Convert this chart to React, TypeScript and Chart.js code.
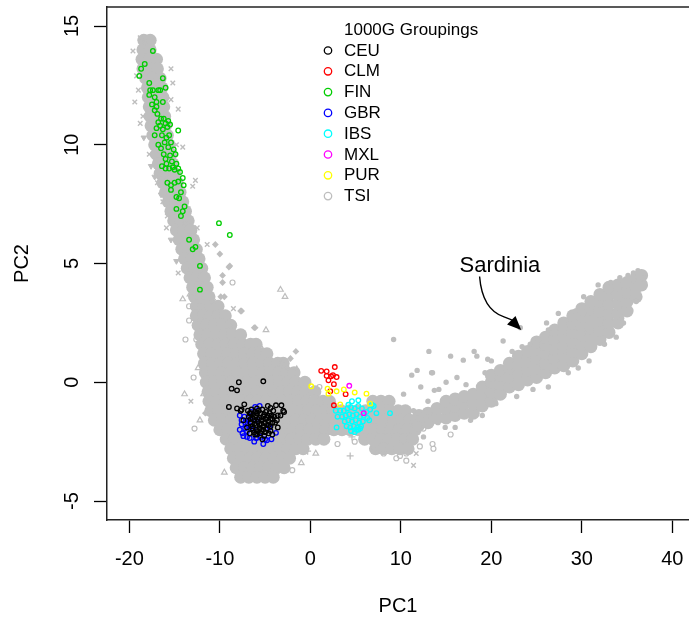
import { useEffect, useRef } from "react";
import { Chart, registerables } from "chart.js";

Chart.register(...registerables);

type Pt = [number, number];

const FONT = "'Liberation Sans', Arial, Helvetica, sans-serif";

const GROUPS = ["CEU", "CLM", "FIN", "GBR", "IBS", "MXL", "PUR", "TSI"];
const GROUP_COLORS = ["#000000", "#FF0000", "#00CD00", "#0000FF", "#00FFFF", "#FF00FF", "#FFFF00", "#BEBEBE"];
const LEGEND_TITLE = "1000G Groupings";
const X_TICKS = [-20, -10, 0, 10, 20, 30, 40];
const Y_TICKS = [-5, 0, 5, 10, 15];
const X_RANGE = [-22.47, 41.84];
const Y_RANGE = [-5.8, 15.8];

// Dense reference-panel cloud, stored as rows: [PC2, PC1 values along the row]
const NORTH_ROWS: [number, number[]][] = [
  [14.4, [-18.4, -17.7]],
  [14.0, [-18.5, -17.7]],
  [13.6, [-18.6, -17.8, -17.0]],
  [13.2, [-18.5, -17.7, -16.9]],
  [12.8, [-18.2, -17.4, -16.6]],
  [12.4, [-18.0, -17.2, -16.4]],
  [12.0, [-17.9, -17.1, -16.3]],
  [11.6, [-17.8, -17.0, -16.2]],
  [11.2, [-17.7, -16.9, -16.1]],
  [10.8, [-17.6, -16.8, -16.0]],
  [10.4, [-17.4, -16.6, -15.8]],
  [10.0, [-17.2, -16.4, -15.6]],
  [9.6, [-17.0, -16.2, -15.4]],
  [9.2, [-16.8, -16.0, -15.2]],
  [8.8, [-16.6, -15.8, -15.0]],
  [8.4, [-16.3, -15.5, -14.7]],
  [8.0, [-16.0, -15.2, -14.4]],
  [7.6, [-15.7, -14.9, -14.1]],
  [7.2, [-15.4, -14.6, -13.8]],
  [6.8, [-15.1, -14.3, -13.5]],
  [6.4, [-14.8, -14.0, -13.2]],
  [6.0, [-14.5, -13.7, -12.9]],
  [5.6, [-14.2, -13.4, -12.6]],
  [5.2, [-13.9, -13.1, -12.3]],
  [4.8, [-13.6, -12.8, -12.0]],
  [4.4, [-13.3, -12.5, -11.7]],
  [4.0, [-13.0, -12.2, -11.4]],
  [3.6, [-12.8, -12.0, -11.2]],
  [3.2, [-12.6, -11.8, -11.0, -10.2]],
  [2.8, [-12.6, -11.8, -11.0, -10.2, -9.4]],
];

const MAIN_ROWS: [number, number[]][] = [
  [2.4, [-12.4, -11.5, -10.6, -9.7, -8.8]],
  [2.0, [-12.2, -11.3, -10.4, -9.5, -8.6, -7.7]],
  [1.6, [-12.0, -11.1, -10.2, -9.3, -8.4, -7.5, -6.6, -6.0]],
  [1.2, [-11.8, -10.9, -10.0, -9.1, -8.2, -7.3, -6.4, -5.5, -4.8]],
  [0.8, [-11.7, -10.8, -9.9, -9.0, -8.1, -7.2, -6.3, -5.4, -4.5, -3.6, -3.0]],
  [0.4, [-11.6, -10.7, -9.8, -8.9, -8.0, -7.1, -6.2, -5.3, -4.4, -3.5, -2.6, -1.8]],
  [0.0, [-11.5, -10.6, -9.7, -8.8, -7.9, -7.0, -6.1, -5.2, -4.3, -3.4, -2.5, -1.6, -0.6]],
  [-0.4, [-11.3, -10.4, -9.5, -8.6, -7.7, -6.8, -5.9, -5.0, -4.1, -3.2, -2.3, -1.4, -0.5, 0.5]],
  [-0.8, [-11.2, -10.3, -9.4, -8.5, -7.6, -6.7, -5.8, -4.9, -4.0, -3.1, -2.2, -1.3, -0.4, 0.5, 1.4, 2.1, 6.9, 7.8, 8.7]],
  [-1.2, [-11.0, -10.1, -9.2, -8.3, -7.4, -6.5, -5.6, -4.7, -3.8, -2.9, -2.0, -1.1, -0.2, 0.7, 1.6, 2.5, 3.4, 4.3, 5.2, 6.1, 7.0, 7.9, 8.8, 9.7, 10.5]],
  [-1.6, [-10.6, -9.7, -8.8, -7.9, -7.0, -6.1, -5.2, -4.3, -3.4, -2.5, -1.6, -0.7, 0.2, 1.1, 2.0, 2.9, 3.8, 4.7, 5.6, 6.5, 7.4, 8.3, 9.2, 10.1, 11.0, 11.8]],
  [-2.0, [-10.0, -9.1, -8.2, -7.3, -6.4, -5.5, -4.6, -3.7, -2.8, -1.9, -1.0, -0.1, 0.8, 1.7, 2.6, 3.5, 4.4, 5.3, 6.2, 7.1, 8.0, 8.9, 9.8, 10.7, 11.6]],
  [-2.4, [-9.3, -8.4, -7.5, -6.6, -5.7, -4.8, -3.9, -3.0, -2.1, -1.2, -0.3, 0.6, 1.5, 6.0, 6.9, 7.8, 8.7, 9.6, 10.5, 11.3]],
  [-2.8, [-8.8, -7.9, -7.0, -6.1, -5.2, -4.3, -3.4, -2.5, -1.6, -0.8, 7.2, 8.1, 9.0, 9.9, 10.8]],
  [-3.2, [-8.5, -7.6, -6.7, -5.8, -4.9, -4.0, -3.1, -2.3]],
  [-3.6, [-8.2, -7.3, -6.4, -5.5, -4.6, -3.7, -2.9]],
  [-4.0, [-7.7, -6.8, -5.9, -5.0, -4.1]],
];

// Sardinian arm, stored as columns: [PC1, PC2 values along the column]
const SARDINIA_COLS: [number, number[]][] = [
  [12, [-1.8, -1.4]],
  [13, [-1.7, -1.3]],
  [14, [-1.5, -1.1]],
  [15, [-1.5, -1.1, -0.8]],
  [16, [-1.4, -1.0, -0.7]],
  [17, [-1.3, -0.9, -0.6]],
  [18, [-1.3, -0.9, -0.5]],
  [19, [-1.0, -0.6, -0.2]],
  [20, [-0.8, -0.4, 0.0, 0.3]],
  [21, [-0.5, -0.1, 0.3, 0.5]],
  [22, [-0.2, 0.2, 0.6, 0.8]],
  [23, [-0.1, 0.3, 0.7, 1.1]],
  [24, [0.1, 0.5, 0.9, 1.3]],
  [25, [0.2, 0.6, 1.0, 1.4, 1.7]],
  [26, [0.4, 0.8, 1.2, 1.6, 1.9]],
  [27, [0.6, 1.0, 1.4, 1.8, 2.2]],
  [28, [0.7, 1.1, 1.5, 1.9, 2.3, 2.5]],
  [29, [0.9, 1.3, 1.7, 2.1, 2.5, 2.8]],
  [30, [1.2, 1.6, 2.0, 2.4, 2.8, 3.1]],
  [31, [1.5, 1.9, 2.3, 2.7, 3.1, 3.4]],
  [32, [1.8, 2.2, 2.6, 3.0, 3.4, 3.7]],
  [33, [2.1, 2.5, 2.9, 3.3, 3.7, 4.0]],
  [34, [2.5, 2.9, 3.3, 3.7, 4.1]],
  [35, [3.0, 3.4, 3.8, 4.2]],
  [36, [3.6, 4.0, 4.4]],
  [36.6, [4.1, 4.5]],
];

// Scattered reference samples drawn with their own symbols
const GREY_DOTS: Pt[] = [
  [9.2, 1.8], [13.1, 1.3], [15.5, 1.1], [11.2, 0.3], [11.8, 0.5], [13.5, 0.4], [13.7, -0.34], [13.0, -0.8],
  [11.4, -1.2], [12.9, -1.25], [12.9, -1.6], [14.1, -1.7], [11.8, -1.5], [16.9, 0.93], [18.1, 1.3],
  [18.4, 1.1], [19.6, 0.97], [21.3, 1.74], [23.4, 1.5], [24.3, 1.6], [25.2, 1.8], [26.1, 2.5], [26.3, 2.2],
  [28.2, 2.6], [29.3, 3.0], [30.2, 3.6], [31.1, 3.5], [33.2, 4.2], [34.2, 4.4], [35.1, 4.5], [35.7, 4.6],
  [36.2, 4.7], [34.6, 2.5], [17.7, -1.6], [20.5, -0.9], [26.3, -0.2], [34.4, 2.7], [13.4, 0.4], [14.9, -1.9],
  [16.0, -1.9], [19.0, -1.4], [22.8, -0.6], [24.6, -0.3], [28.5, 0.4], [30.8, 0.9], [32.5, 1.6], [36.0, 3.4],
  [36.8, 4.4], [27.4, 2.9], [15.0, 0.0], [16.2, 0.2], [14.2, -0.3], [12.2, -0.2], [20.0, 0.9], [22.3, 1.3],
  [23.2, 2.3], [19.3, 0.4], [31.8, 4.1], [33.8, 1.9], [29.6, 0.6], [17.2, -0.1], [10.3, -0.5], [12.5, -2.3],
];

const GREY_CROSS: Pt[] = [
  [-19.6, 13.95], [-18.3, 14.3], [-15.4, 13.2], [-15.4, 11.9], [-19.2, 12.9], [-19.4, 11.8], [-14.1, 9.9],
  [-16.9, 8.4], [-16.3, 7.6], [-13.0, 8.25], [-12.7, 8.5], [-15.9, 6.5], [-11.4, 5.8], [-8.5, 3.1],
  [-2.6, 0.6], [-13.2, -0.8], [11.7, -3.0], [11.4, -3.5], [-18.8, 14.5], [-19.0, 12.3], [-18.5, 11.2],
  [-14.6, 11.5], [-14.8, 10.0], [-17.8, 9.6], [-13.5, 7.3], [-15.8, 7.0], [-12.5, 6.5], [-11.8, 4.8],
  [-14.6, 4.6], [-10.7, 3.4], [-17.9, 12.0], [-18.8, 10.9], [-15.2, 12.6], [-13.9, 6.7], [-12.2, 3.4],
];

const GREY_TRI_DOWN: Pt[] = [
  [-18.4, 10.3], [-17.2, 8.65], [-15.4, 6.0], [-14.8, 5.1], [-16.5, 7.9], [-17.6, 9.1],
];

const GREY_TRI_UP: Pt[] = [
  [-14.1, 3.5], [-13.3, 3.7], [-8.8, 2.3], [-4.9, 2.2], [-2.8, 3.6], [-3.3, 3.9], [-1.5, 0.55], [-5.5, 1.5],
  [-11.8, -0.5], [-13.9, -0.5], [-12.4, 0.6], [-9.5, -3.8], [-12.2, -1.6], [-1.0, -3.4], [0.6, -3.0],
];

const GREY_OPEN: Pt[] = [
  [-8.6, 4.2], [-13.4, 3.2], [-12.1, 2.6], [-13.4, 2.6], [-13.8, 1.8], [-12.6, 1.8], [-3.1, 0.8], [12.5, -1.95],
  [15.5, -2.2], [13.5, -2.6], [13.6, -2.8], [12.1, -2.7], [10.6, -3.0], [9.9, -3.1], [7.0, -2.8], [8.1, -3.0],
  [9.5, -3.2], [10.6, -3.3], [4.9, -2.5], [-12.8, -1.95], [-12.9, 0.2], [1.0, -0.2], [3.0, -2.6], [-2.0, -3.7],
];

const GREY_DIAMOND: Pt[] = [
  [-10.5, 5.8], [-10.0, 5.4], [-9.0, 4.85], [-9.7, 4.5], [-9.5, 3.6], [-7.7, 3.0], [-9.7, 4.2], [-8.9, 4.9],
  [-9.9, 3.6], [-7.6, 3.0], [-6.2, 2.3], [-1.6, 1.3], [-2.2, 1.0], [-11.6, -1.3], [-6.1, 2.3],
];

const GREY_PLUS: Pt[] = [[4.4, -3.1], [4.6, -2.3], [-0.3, -2.9]];

const FIN: Pt[] = [
  [-17.4, 13.95], [-18.3, 13.4], [-18.7, 13.2], [-18.9, 12.9], [-17.8, 12.6], [-16.3, 12.8], [-16.0, 12.4],
  [-17.7, 12.3], [-17.4, 12.3], [-16.8, 12.3], [-16.6, 12.3], [-17.8, 12.1], [-17.2, 12.0], [-16.3, 11.8],
  [-17.0, 11.8], [-17.0, 11.6], [-17.2, 11.45], [-16.5, 11.1], [-16.2, 11.1], [-16.8, 10.95], [-16.0, 10.9],
  [-16.6, 10.8], [-15.8, 10.75], [-17.0, 10.7], [-16.3, 10.65], [-15.5, 10.85], [-14.6, 10.6], [-17.2, 10.4],
  [-16.4, 10.4], [-15.9, 10.3], [-15.6, 10.4], [-16.1, 10.1], [-15.4, 10.1], [-16.8, 10.0], [-16.5, 9.85],
  [-15.7, 9.9], [-15.1, 9.8], [-16.2, 9.6], [-15.5, 9.55], [-14.9, 9.6], [-16.0, 9.4], [-15.3, 9.3],
  [-15.9, 9.2], [-16.4, 9.1], [-14.8, 9.2], [-15.6, 9.0], [-15.0, 8.95], [-14.6, 9.0], [-14.4, 8.85],
  [-14.1, 8.6], [-15.8, 8.4], [-15.4, 8.3], [-15.0, 8.4], [-14.6, 8.45], [-14.0, 8.3], [-15.4, 8.1],
  [-14.3, 8.0], [-14.8, 7.8], [-14.5, 7.75], [-14.8, 7.3], [-13.9, 7.4], [-14.3, 7.0], [-14.1, 7.2],
  [-13.4, 6.0], [-13.0, 5.6], [-12.7, 5.7], [-12.2, 4.9], [-12.2, 3.9], [-10.1, 6.7], [-8.9, 6.2],
  [-16.9, 11.3], [-15.7, 11.0], [-17.5, 11.7], [-16.0, 9.0], [-15.2, 9.05],
];

const CEU: Pt[] = [
  [-7.9, 0.0], [-5.2, 0.04], [-8.7, -0.27], [-8.1, -0.34], [-9.0, -1.04], [-8.1, -1.1], [-7.3, -0.93],
  [-7.7, -1.2], [-4.4, -1.08], [-3.8, -0.97], [-3.2, -0.97], [-3.0, -1.2], [-3.3, -1.4], [-3.6, -1.9],
  [-4.2, -2.2], [-5.3, -2.4], [-6.1, -2.2], [-7.0, -1.9], [-7.4, -1.6], [-6.6, -1.3], [-4.7, -1.0],
  [-5.9, -1.1], [-7.6, -1.15], [-3.7, -1.6], [-2.9, -1.25],
  [-6.9, -1.2], [-6.5, -1.15], [-6.1, -1.25], [-5.7, -1.2], [-5.3, -1.15], [-4.9, -1.25], [-4.5, -1.3],
  [-4.1, -1.2], [-6.8, -1.45], [-6.4, -1.5], [-6.0, -1.4], [-5.6, -1.5], [-5.2, -1.45], [-4.8, -1.5],
  [-4.4, -1.55], [-4.0, -1.45], [-3.6, -1.4], [-6.6, -1.7], [-6.2, -1.75], [-5.8, -1.65], [-5.4, -1.75],
  [-5.0, -1.7], [-4.6, -1.8], [-4.2, -1.7], [-6.4, -1.95], [-6.0, -2.0], [-5.6, -1.95], [-5.2, -2.0],
  [-4.8, -1.95], [-4.4, -2.05], [-5.9, -2.2], [-5.5, -2.15], [-5.1, -2.25], [-6.7, -2.15],
  [-6.7, -1.3], [-6.3, -1.35], [-5.9, -1.3], [-5.5, -1.3], [-5.1, -1.35], [-4.7, -1.4], [-4.3, -1.4],
  [-6.6, -1.55], [-6.2, -1.6], [-5.8, -1.55], [-5.4, -1.6], [-5.0, -1.55], [-4.6, -1.65], [-4.2, -1.55],
  [-6.4, -1.85], [-6.0, -1.8], [-5.6, -1.8], [-5.2, -1.85], [-4.8, -1.8], [-4.4, -1.85], [-3.9, -1.7],
  [-5.8, -2.05], [-5.4, -2.05], [-5.0, -2.1], [-4.6, -2.15], [-6.2, -2.1],
];

const GBR: Pt[] = [
  [-5.6, -1.0], [-7.8, -1.4], [-7.6, -1.6], [-7.2, -1.7], [-7.6, -1.77], [-7.8, -2.0], [-7.0, -2.06],
  [-7.4, -2.27], [-5.9, -2.34], [-5.5, -2.3], [-4.8, -2.44], [-3.8, -2.13], [-4.5, -1.9], [-6.3, -1.95],
  [-6.8, -1.5], [-6.5, -1.25], [-6.1, -1.04], [-6.6, -1.85], [-6.9, -1.75], [-7.2, -1.95], [-6.7, -2.35],
  [-6.2, -2.5], [-5.0, -2.4], [-7.5, -2.15], [-6.0, -2.35], [-7.3, -1.45], [-4.3, -2.4], [-6.0, -1.6],
  [-5.2, -2.6], [-7.0, -2.3],
];

const IBS: Pt[] = [
  [3.3, -1.2], [3.7, -1.2], [4.1, -1.1], [4.5, -1.05], [4.9, -1.1], [5.3, -1.0], [5.7, -1.1], [6.2, -1.25],
  [6.6, -1.15], [3.5, -1.45], [3.9, -1.4], [4.3, -1.35], [4.7, -1.4], [5.1, -1.35], [5.5, -1.45], [5.9, -1.4],
  [6.3, -1.5], [3.8, -1.65], [4.2, -1.6], [4.6, -1.65], [5.0, -1.6], [5.4, -1.7], [5.8, -1.65], [4.0, -1.85],
  [4.4, -1.9], [4.8, -1.85], [5.2, -1.9], [5.6, -1.85], [4.5, -2.05], [4.9, -2.1], [5.3, -2.0],
  [5.3, -0.76], [8.8, -1.3], [2.9, -1.9], [7.0, -1.0], [5.1, -2.0], [5.5, -1.95], [3.0, -1.45], [2.8, -1.2],
  [6.8, -0.95], [4.6, -0.8], [4.2, -0.95], [6.5, -1.6], [7.3, -1.3],
];

const CLM: Pt[] = [
  [2.7, 0.64], [1.2, 0.48], [1.8, 0.46], [2.5, 0.3], [1.8, 0.27], [2.0, 0.08], [2.6, -0.08], [2.2, -0.38],
  [3.9, -0.5], [2.6, -0.97], [2.9, 0.22], [2.3, 0.25],
];

const PUR: Pt[] = [
  [0.1, -0.17], [1.9, -0.27], [2.0, -0.48], [2.9, -0.38], [3.7, -0.3], [4.9, -0.43], [6.2, -0.48],
  [6.6, -0.9], [3.3, -0.93],
];

const MXL: Pt[] = [[4.3, -0.15], [5.9, -1.3]];

// "Sardinia" callout: label anchor and the curved arrow's path, in data units
const SARDINIA_LABEL: Pt = [20.95, 4.88];
const ARROW_PATH: Pt[] = [[18.7, 4.45], [18.9, 3.5], [19.8, 2.95], [21.4, 2.75]];
const ARROW_TIP: Pt = [23.3, 2.2];

const rowsToPts = (rows: [number, number[]][]): Pt[] =>
  rows.flatMap(([y, xs]) => xs.map((x) => [x, y] as Pt));
const colsToPts = (cols: [number, number[]][]): Pt[] =>
  cols.flatMap(([x, ys]) => ys.map((y) => [x, y] as Pt));
const toXY = (pts: Pt[]) => pts.map(([x, y]) => ({ x, y }));

const GREY = GROUP_COLORS[7];
const CLEAR = "rgba(0,0,0,0)";

function pointSet(
  pts: Pt[],
  style: string,
  radius: number,
  fill: string,
  stroke: string,
  width: number,
  rotation = 0
) {
  return {
    data: toXY(pts),
    pointStyle: style,
    pointRadius: radius,
    pointBackgroundColor: fill,
    pointBorderColor: stroke,
    pointBorderWidth: width,
    pointRotation: rotation,
    showLine: false,
  };
}

const decorations = {
  id: "decorations",
  afterDatasetsDraw(chart: any) {
    const { ctx, chartArea, scales } = chart;
    const xs = scales.x;
    const ys = scales.y;
    ctx.save();

    // top edge of the plot frame
    ctx.strokeStyle = "#222";
    ctx.lineWidth = 1.5;
    ctx.beginPath();
    ctx.moveTo(chartArea.left, chartArea.top);
    ctx.lineTo(chartArea.right, chartArea.top);
    ctx.stroke();

    // legend
    ctx.fillStyle = "#000";
    ctx.font = `17px ${FONT}`;
    ctx.textAlign = "left";
    ctx.textBaseline = "middle";
    ctx.fillText(LEGEND_TITLE, 344, 30);
    GROUPS.forEach((g, i) => {
      const y = 50.5 + i * 20.8;
      ctx.beginPath();
      ctx.arc(328, y, 3.7, 0, Math.PI * 2);
      ctx.strokeStyle = GROUP_COLORS[i];
      ctx.lineWidth = 1.3;
      ctx.stroke();
      ctx.fillStyle = "#000";
      ctx.fillText(g, 344, y + 0.5);
    });

    // Sardinia callout
    const px = (p: Pt) => [xs.getPixelForValue(p[0]), ys.getPixelForValue(p[1])];
    const [lx, ly] = px(SARDINIA_LABEL);
    ctx.font = `22px ${FONT}`;
    ctx.textAlign = "center";
    ctx.fillText("Sardinia", lx, ly);

    const p = ARROW_PATH.map(px);
    const [tx, ty] = px(ARROW_TIP);
    ctx.strokeStyle = "#000";
    ctx.lineWidth = 1.4;
    ctx.beginPath();
    ctx.moveTo(p[0][0], p[0][1]);
    ctx.bezierCurveTo(p[1][0], p[1][1], p[2][0], p[2][1], p[3][0], p[3][1]);
    ctx.quadraticCurveTo(p[3][0] + 6, p[3][1] + 2, tx - 6, ty - 8);
    ctx.stroke();

    const ang = Math.atan2(ty - (p[3][1] + 2), tx - (p[3][0] + 6));
    const len = 14;
    const half = 6;
    const bx = tx - len * Math.cos(ang);
    const by = ty - len * Math.sin(ang);
    ctx.fillStyle = "#000";
    ctx.beginPath();
    ctx.moveTo(tx, ty);
    ctx.lineTo(bx + half * Math.sin(ang), by - half * Math.cos(ang));
    ctx.lineTo(bx - half * Math.sin(ang), by + half * Math.cos(ang));
    ctx.closePath();
    ctx.fill();
    ctx.restore();
  },
};

export default function App() {
  const ref = useRef<HTMLCanvasElement | null>(null);

  useEffect(() => {
    if (!ref.current) return;
    Chart.defaults.font.family = FONT;
    Chart.defaults.color = "#000";

    const core = [...rowsToPts(NORTH_ROWS), ...rowsToPts(MAIN_ROWS), ...colsToPts(SARDINIA_COLS)];

    // listed bottom layer first; "order" makes later entries paint on top
    const layers: any[] = [
      { label: "TSI", ...pointSet(core, "circle", 6.5, GREY, GREY, 0) },
      pointSet(GREY_DOTS, "circle", 2.7, GREY, GREY, 0),
      pointSet(GREY_CROSS, "crossRot", 3.2, GREY, GREY, 1.4),
      pointSet(GREY_TRI_DOWN, "triangle", 3.2, GREY, GREY, 1, 180),
      pointSet(GREY_TRI_UP, "triangle", 3.2, CLEAR, GREY, 1.2),
      pointSet(GREY_OPEN, "circle", 2.5, CLEAR, GREY, 1.2),
      pointSet(GREY_DIAMOND, "rectRot", 3.4, GREY, GREY, 0),
      pointSet(GREY_PLUS, "cross", 3.5, GREY, GREY, 1.3),
      { label: "FIN", ...pointSet(FIN, "circle", 2.3, CLEAR, GROUP_COLORS[2], 1.3) },
      { label: "GBR", ...pointSet(GBR, "circle", 2.3, CLEAR, GROUP_COLORS[3], 1.3) },
      { label: "CEU", ...pointSet(CEU, "circle", 2.3, CLEAR, GROUP_COLORS[0], 1.3) },
      { label: "IBS", ...pointSet(IBS, "circle", 2.3, CLEAR, GROUP_COLORS[4], 1.3) },
      { label: "CLM", ...pointSet(CLM, "circle", 2.3, CLEAR, GROUP_COLORS[1], 1.3) },
      { label: "PUR", ...pointSet(PUR, "circle", 2.3, CLEAR, GROUP_COLORS[6], 1.3) },
      { label: "MXL", ...pointSet(MXL, "circle", 2.3, CLEAR, GROUP_COLORS[5], 1.3) },
    ];
    const datasets = layers.map((d, i) => ({ ...d, order: layers.length - i }));

    const chart = new Chart(ref.current, {
      type: "scatter",
      data: { datasets },
      options: {
        responsive: false,
        animation: false,
        devicePixelRatio: 1,
        events: [],
        // no extra room for point overflow: the frame runs to the canvas edge
        layout: { autoPadding: false, padding: { top: 7, right: 0, left: 0, bottom: 0 } },
        plugins: { legend: { display: false }, tooltip: { enabled: false } },
        scales: {
          x: {
            type: "linear",
            min: X_RANGE[0],
            max: X_RANGE[1],
            afterBuildTicks: (s: any) => {
              s.ticks = X_TICKS.map((v) => ({ value: v }));
            },
            afterFit: (s: any) => {
              s.height = 102;
              s.paddingLeft = 0;
              s.paddingRight = 0;
            },
            ticks: { font: { size: 20, lineHeight: 2.6 }, padding: 0, color: "#000", maxRotation: 0, autoSkip: false },
            grid: { drawOnChartArea: false, drawTicks: true, tickLength: 13, tickColor: "#000", tickWidth: 1.3 },
            border: { display: true, color: "#222", width: 1.5 },
            title: { display: true, text: "PC1", font: { size: 20 }, color: "#000", padding: { top: 0, bottom: 4 } },
          },
          y: {
            type: "linear",
            min: Y_RANGE[0],
            max: Y_RANGE[1],
            afterBuildTicks: (s: any) => {
              s.ticks = Y_TICKS.map((v) => ({ value: v }));
            },
            afterFit: (s: any) => {
              s.width = 107;
              s.paddingTop = 0;
              s.paddingBottom = 0;
            },
            ticks: { font: { size: 20 }, padding: 10, color: "#000", minRotation: 90, maxRotation: 90, crossAlign: "center", autoSkip: false },
            grid: { drawOnChartArea: false, drawTicks: true, tickLength: 13, tickColor: "#000", tickWidth: 1.3 },
            border: { display: true, color: "#222", width: 1.5 },
            title: { display: true, text: "PC2", font: { size: 20 }, color: "#000", padding: { top: 10, bottom: 0 } },
          },
        },
      },
      plugins: [decorations],
    } as any);

    return () => chart.destroy();
  }, []);

  return (
    <canvas
      ref={ref}
      width={689}
      height={622}
      style={{ position: "fixed", left: 0, top: 0, width: 689, height: 622, background: "#fff" }}
    />
  );
}
